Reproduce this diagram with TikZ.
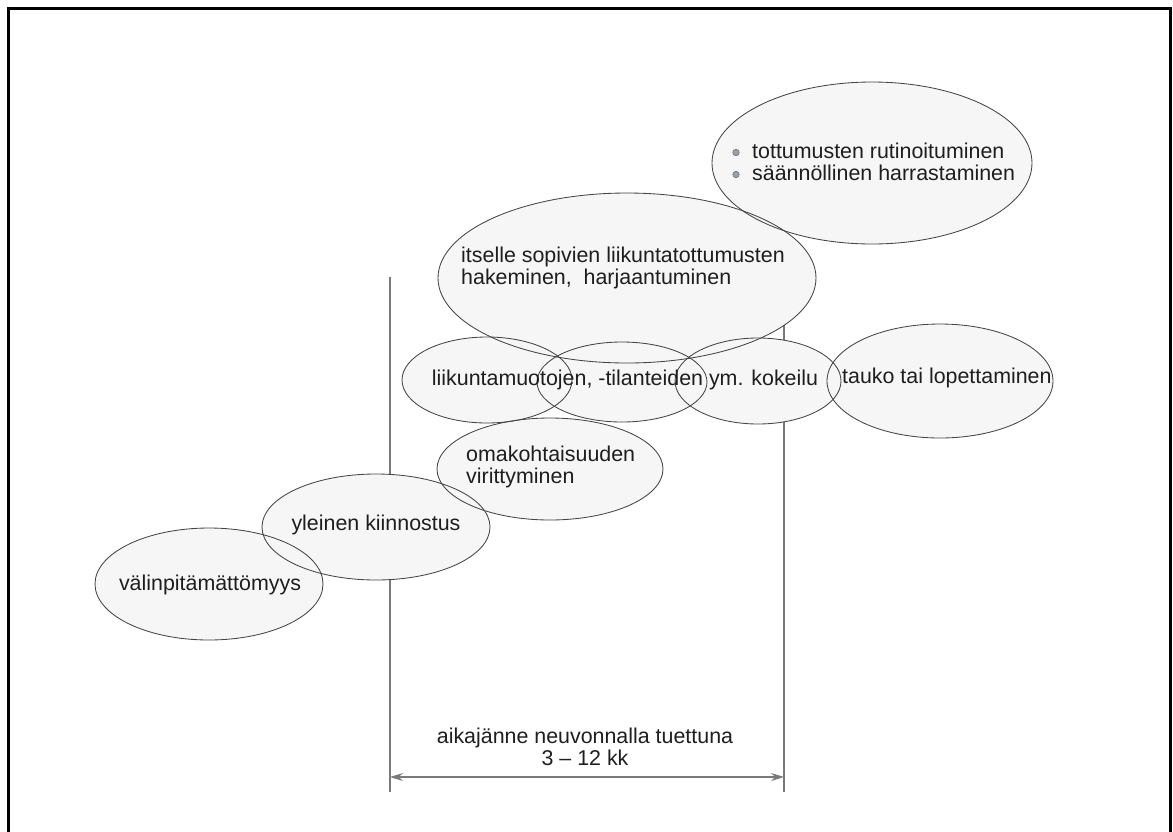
\documentclass[tikz,border=0pt]{standalone}
\usepackage{fontspec}
\setmainfont{Liberation Sans}
\usetikzlibrary{shapes.geometric,arrows.meta}
\definecolor{ink}{HTML}{1E1E1E}
\definecolor{edge}{HTML}{454545}
\definecolor{paper}{HTML}{F6F6F6}
\definecolor{rule}{HTML}{7A7A7A}
\definecolor{dotgray}{HTML}{9AA0A8}
\definecolor{dotedge}{HTML}{6E747C}
\begin{document}
\begin{tikzpicture}[x=1pt,y=-1pt,
  blobfill/.style={ellipse, fill=paper, draw=none, inner sep=0pt, outer sep=0pt},
  blob/.style={ellipse, draw=edge, line width=0.85pt, inner sep=0pt, outer sep=0pt},
  txt/.style={text=ink, font=\fontsize{21.4}{22}\selectfont, inner sep=0pt, align=left},
  bulletdot/.style={circle, fill=dotgray, draw=dotedge, line width=0.6pt, minimum size=6.5pt, inner sep=0pt},
  guide/.style={draw=rule, line width=1.1pt},
  spanarrow/.style={draw=rule, line width=1.1pt, {Stealth[length=13pt,width=8pt]}-{Stealth[length=13pt,width=8pt]}},
  outerframe/.style={draw=black, line width=3pt}]
\useasboundingbox (0,0) rectangle (1173,831);
% frame
\draw[outerframe] (8.5,840) -- (8.5,8.5) -- (1170.5,8.5) -- (1170.5,840);
% guide lines and time span arrow
\coordinate (g1t) at (390,277);
\coordinate (g1b) at (390,792);
\coordinate (g2t) at (784,300);
\coordinate (g2b) at (784,792);
\draw[guide] (g1t) -- (g1b);
\draw[guide] (g2t) -- (g2b);
\coordinate (a1) at (390,777);
\coordinate (a2) at (784,777);
\draw[spanarrow] (a1) -- (a2);
% ellipse fills
\foreach \n/\x/\y/\rx/\ry in {ev/209/584/114/56, ey/376/527/114/53, eo/550/469/113/51,
  ea/487/380/85/43, eb/622/382/85/40, ec/758/381/83/43, et/940/381/113/57,
  eg/627/278/189/85, er/872/163/160/81}
  \node[blobfill, minimum width=2*\rx, minimum height=2*\ry] at (\x,\y) {};
% ellipse outlines
\foreach \n/\x/\y/\rx/\ry in {ev/209/584/114/56, ey/376/527/114/53, eo/550/469/113/51,
  ea/487/380/85/43, eb/622/382/85/40, ec/758/381/83/43, et/940/381/113/57,
  eg/627/278/189/85, er/872/163/160/81}
  \node[blob, minimum width=2*\rx, minimum height=2*\ry] (\n) at (\x,\y) {};
% texts
\node[txt, anchor=base] (tv) at (210,590) {välinpitämättömyys};
\node[txt, anchor=base] (ty) at (376,530) {yleinen kiinnostus};
\node[txt, anchor=base west] (to) at (466,483) {omakohtaisuuden\\virittyminen};
\node[txt, anchor=base] (trow) at (625,385) {liikuntamuotojen, -tilanteiden ym. kokeilu};
\node[txt, anchor=base west] (tt) at (842,383) {tauko tai lopettaminen};
\node[txt, anchor=base west] (tg) at (461,284) {itselle sopivien liikuntatottumusten\\hakeminen,\ \ harjaantuminen};
\node[bulletdot] (bu1) at (736,152.5) {};
\node[bulletdot] (bu2) at (736,174.5) {};
\node[txt, anchor=base west] (tr) at (752,180) {tottumusten rutinoituminen\\säännöllinen harrastaminen};
\node[txt, align=center, anchor=base] (ts) at (585,765) {aikajänne neuvonnalla tuettuna\\3 – 12 kk};
\end{tikzpicture}
\end{document}
